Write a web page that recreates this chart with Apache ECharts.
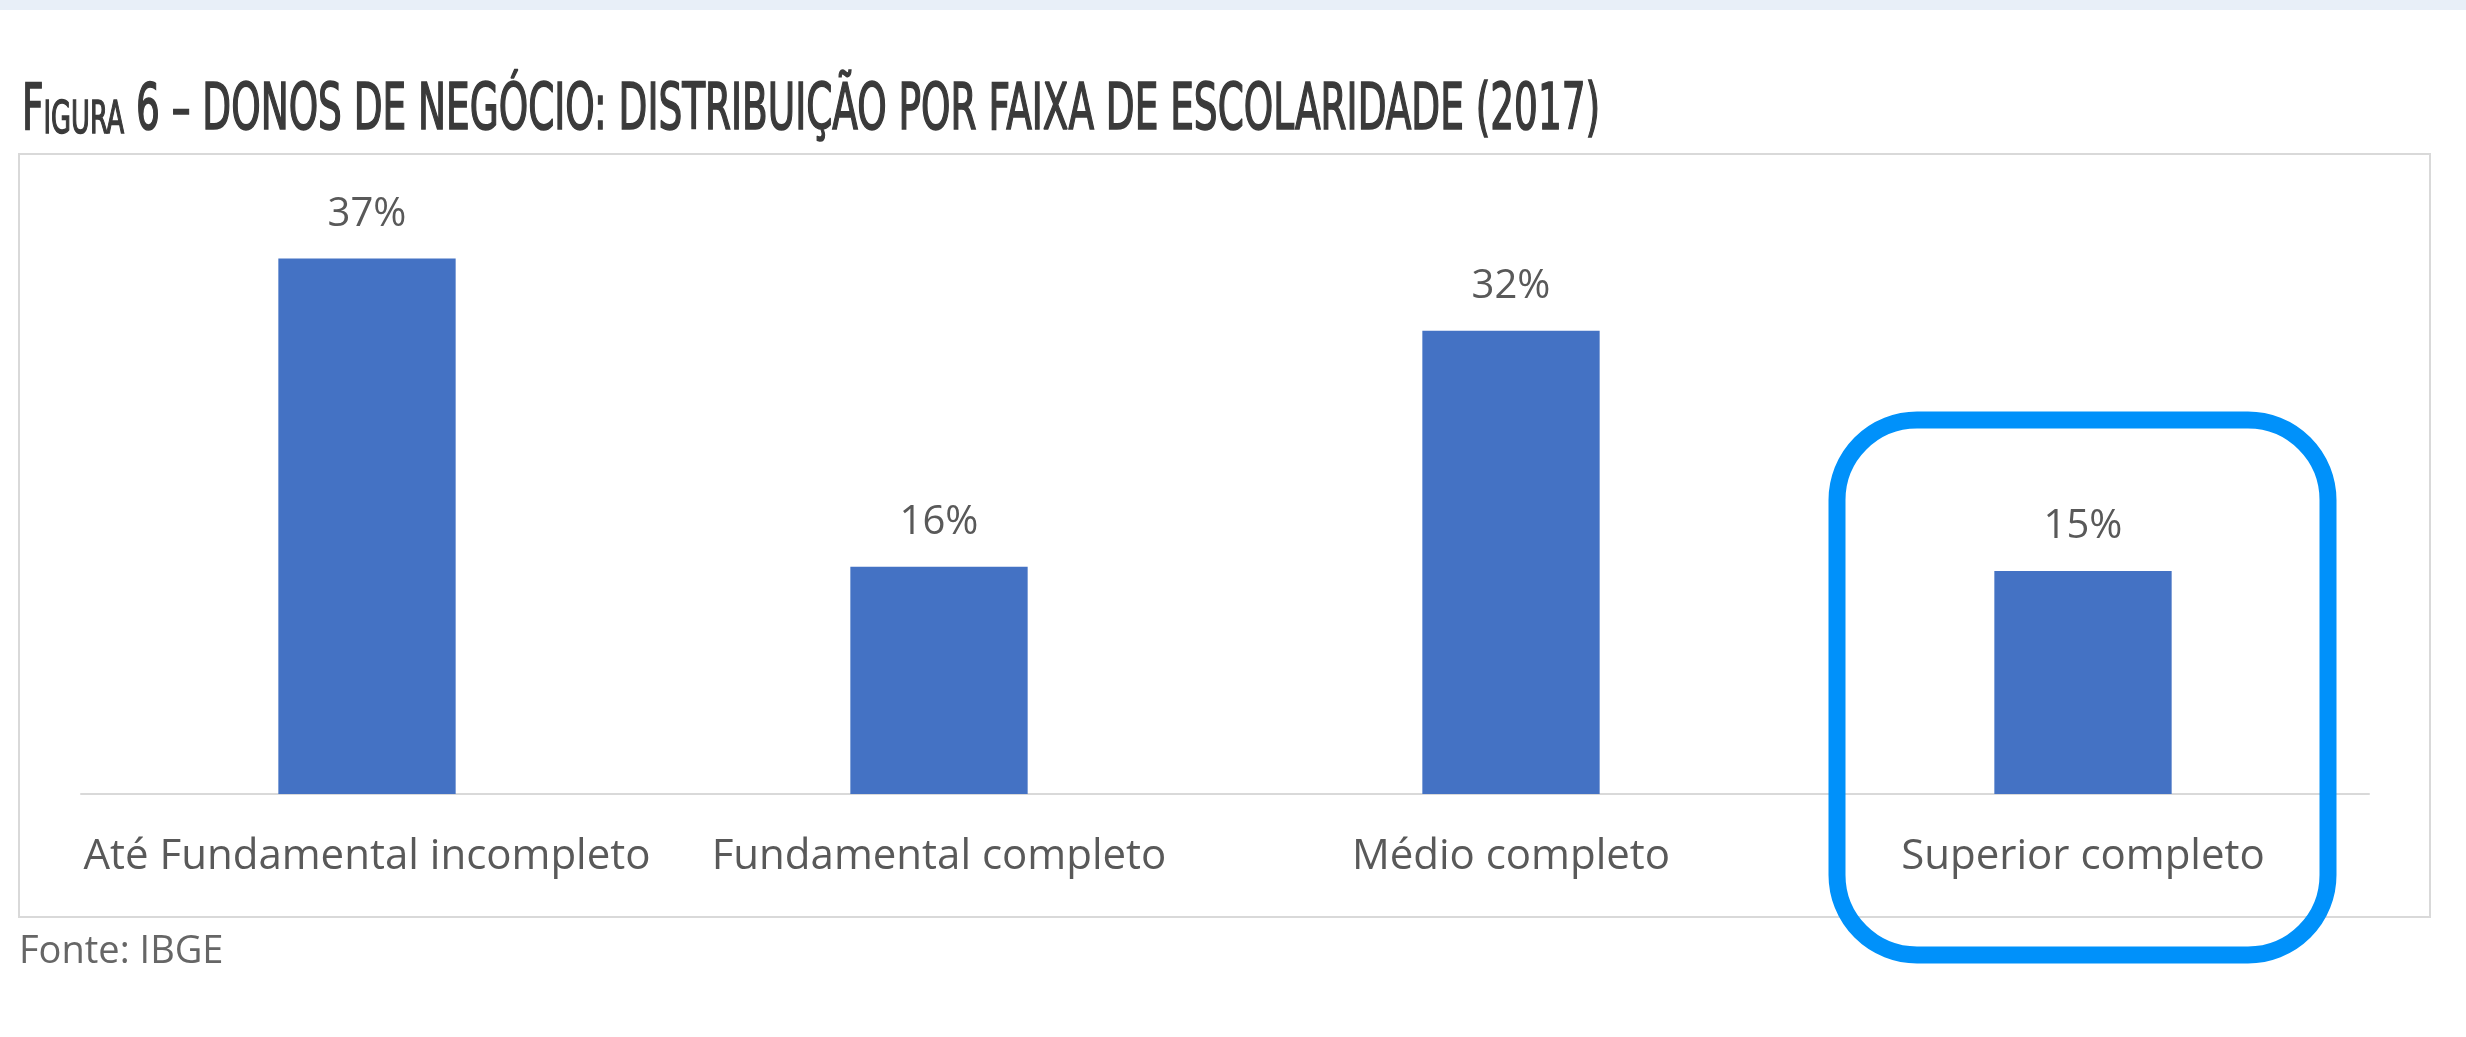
<!DOCTYPE html>
<html>
<head>
<meta charset="utf-8">
<script src="https://cdn.jsdelivr.net/npm/echarts@6/dist/echarts.min.js"></script>
<style>
  html, body { margin: 0; padding: 0; background: #fff; }
  #chart { width: 2466px; height: 1037px; }
</style>
</head>
<body>
<div id="chart"></div>
<script>
// categorias e valores (percentual de donos de negócio)
var categorias = ['Até Fundamental incompleto', 'Fundamental completo', 'Médio completo', 'Superior completo'];
var valores = [37.0, 15.7, 32.0, 15.4];

var titulo = ' 6 – DONOS DE NEGÓCIO: DISTRIBUIÇÃO POR FAIXA DE ESCOLARIDADE (2017)';
var fonte = 'Fonte: IBGE';

var cinza = '#595959';
var corTitulo = '#3a3a3a';
var fontTexto = '"Open Sans", "Noto Sans", sans-serif';
var fontTitulo = '"Liberation Sans Narrow", "DejaVu Sans Condensed", sans-serif';

var myChart = echarts.init(document.getElementById('chart'));

var option = {
	backgroundColor: '#ffffff',
	animation: false,
	grid: {
		left: 81,
		right: 97,
		top: 215,
		bottom: 243
	},
	xAxis: {
		type: 'category',
		data: categorias,
		axisLine: { lineStyle: { color: '#d9d9d9', width: 2 } },
		axisTick: { show: false },
		axisLabel: {
			color: cinza,
			fontSize: 42,
			fontFamily: fontTexto,
			margin: 42,
			interval: 0
		}
	},
	yAxis: {
		type: 'value',
		min: 0,
		max: 40,
		show: false,
		splitLine: { show: false }
	},
	series: [{
		type: 'bar',
		data: valores,
		barWidth: '31%',
		itemStyle: { color: '#4472c4' },
		label: {
			show: true,
			position: 'top',
			distance: 24,
			color: cinza,
			fontSize: 40,
			fontFamily: fontTexto,
			formatter: function(p) {
				return Math.round(p.value) + '%';
			}
		}
	}],
	graphic: [
		// faixa clara no topo
		{
			type: 'rect',
			shape: { x: 0, y: 0, width: 2466, height: 10 },
			style: { fill: '#e8eff8' },
			silent: true
		},
		// moldura do gráfico
		{
			type: 'rect',
			shape: { x: 19, y: 154, width: 2411, height: 763 },
			style: { fill: 'none', stroke: '#d9d9d9', lineWidth: 2 },
			silent: true,
			z: -1
		},
		// título em versalete
		{
			type: 'text',
			x: 22,
			y: 112,
			scaleX: 0.65,
			style: {
				text: '{a|F}{b|IGURA}{a|' + titulo + '}',
				verticalAlign: 'middle',
				rich: {
					a: { fontSize: 64, fontFamily: fontTitulo, fill: corTitulo, stroke: corTitulo, lineWidth: 1.6 },
					b: { fontSize: 44, fontFamily: fontTitulo, fill: corTitulo, stroke: corTitulo, lineWidth: 1.4, verticalAlign: 'bottom' }
				}
			},
			silent: true
		},
		// fonte
		{
			type: 'text',
			x: 19,
			y: 952,
			style: {
				text: fonte,
				fontSize: 38,
				fontFamily: fontTexto,
				fill: '#666666',
				verticalAlign: 'middle'
			},
			silent: true
		},
		// destaque em azul
		{
			type: 'rect',
			shape: { x: 1837, y: 420, width: 491, height: 535, r: 80 },
			style: { fill: 'none', stroke: '#0091fa', lineWidth: 17 },
			silent: true,
			z: 10
		}
	]
};

myChart.setOption(option);
</script>
</body>
</html>
